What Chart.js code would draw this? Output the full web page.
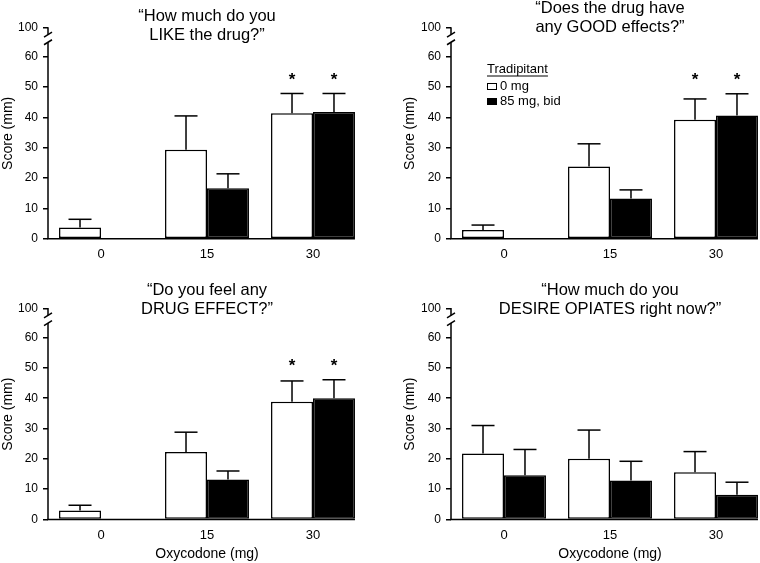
<!DOCTYPE html>
<html>
<head>
<meta charset="utf-8">
<script src="https://cdn.jsdelivr.net/npm/chart.js@4.4.1/dist/chart.umd.min.js"></script>
<style>
  html, body { margin: 0; padding: 0; background: #fff; overflow: hidden; width: 760px; height: 563px; }
  .panel { position: absolute; }
</style>
</head>
<body>
  <div class="panel" style="left:0;top:0"><canvas id="chartLike" width="380" height="280"></canvas></div>
  <div class="panel" style="left:380px;top:0"><canvas id="chartGood" width="400" height="280"></canvas></div>
  <div class="panel" style="left:0;top:280px"><canvas id="chartEffect" width="380" height="283"></canvas></div>
  <div class="panel" style="left:380px;top:280px"><canvas id="chartDesire" width="400" height="283"></canvas></div>

  <script>
    // 데이터
    var doses = ['0', '15', '30'];
    var seriesLabels = ['0 mg', '85 mg, bid'];
    var legendTitle = 'Tradipitant';
    var yTicks = [0, 10, 20, 30, 40, 50, 60, 100];

    var likeMean0 = [3.7, 29.3, 41.4];
    var likeErr0 = [2.7, 11.2, 6.5];
    var likeMean85 = [0, 16.6, 41.8];
    var likeErr85 = [0, 4.8, 6.1];
    var likeSig = [false, false, true];

    var goodMean0 = [2.9, 23.8, 39.2];
    var goodErr0 = [1.6, 7.5, 6.9];
    var goodMean85 = [0, 13.3, 40.6];
    var goodErr85 = [0, 2.8, 7.2];
    var goodSig = [false, false, true];

    var effectMean0 = [3.0, 22.3, 38.8];
    var effectErr0 = [1.7, 6.5, 6.9];
    var effectMean85 = [0, 13.2, 40.0];
    var effectErr85 = [0, 2.8, 6.1];
    var effectSig = [false, false, true];

    var desireMean0 = [21.8, 20.0, 15.6];
    var desireErr0 = [9.2, 9.5, 6.8];
    var desireMean85 = [14.6, 12.9, 8.2];
    var desireErr85 = [8.5, 6.3, 4.1];
    var desireSig = [false, false, false];

    // axis break: 100 sits just above the 0-60 range
    var Y_TOP = 69.5;
    var BRK_LO = 64.8;
    var BRK_HI = 67.3;

    Chart.defaults.font.family = "'Liberation Sans', Arial, Helvetica, sans-serif";
    Chart.defaults.color = '#000';

    function line(c, x1, y1, x2, y2) {
      c.beginPath();
      c.moveTo(x1, y1);
      c.lineTo(x2, y2);
      c.stroke();
    }

    // 에러바, 별표, 축, 제목, 범례
    function panelPlugin(p) {
      return {
        id: 'panel',
        afterDraw: function (chart) {
          var c = chart.ctx, a = chart.chartArea, y = chart.scales.y;
          c.save();
          c.strokeStyle = '#000';
          c.fillStyle = '#000';
          c.lineWidth = 1.5;

          // upper error bars
          var caps = [];
          chart.data.datasets.forEach(function (ds, di) {
            chart.getDatasetMeta(di).data.forEach(function (bar, i) {
              var top = y.getPixelForValue(ds.data[i] + ds.errors[i]);
              if (ds.errors[i] > 0) {
                line(c, bar.x, bar.y, bar.x, top);
                line(c, bar.x - 11.5, top, bar.x + 11.5, top);
              }
              caps[i] = Math.min(caps[i] === undefined ? Infinity : caps[i], top);
            });
          });

          // significance
          c.font = "bold 17px 'Liberation Sans', Arial, sans-serif";
          c.textAlign = 'center';
          c.textBaseline = 'middle';
          chart.data.datasets.forEach(function (ds, di) {
            chart.getDatasetMeta(di).data.forEach(function (bar, i) {
              if (ds.sig[i]) c.fillText('*', bar.x, caps[i] - 17 + 4);
            });
          });

          // axes
          var yb = y.getPixelForValue(0);
          var meta = chart.getDatasetMeta(chart.data.datasets.length - 1);
          var last = meta.data[meta.data.length - 1];
          line(c, a.left - 0.75, yb, last.x + last.width / 2, yb);
          line(c, a.left, yb, a.left, y.getPixelForValue(BRK_LO));
          line(c, a.left, y.getPixelForValue(BRK_HI), a.left, a.top - 0.75);
          [BRK_LO, BRK_HI].forEach(function (v) {
            var py = y.getPixelForValue(v);
            line(c, a.left - 4, py + 2.5, a.left + 4, py - 2.5);
          });

          // title
          c.font = "16.5px 'Liberation Sans', Arial, sans-serif";
          c.textBaseline = 'middle';
          p.title.forEach(function (t, k) {
            c.fillText(t, (a.left + a.right) / 2, p.titleY + k * 19);
          });

          // legend
          if (p.legend) {
            var lx = a.left + 36, ly = a.top + 41;
            c.font = "13px 'Liberation Sans', Arial, sans-serif";
            c.textAlign = 'left';
            c.fillText(legendTitle, lx, ly);
            c.lineWidth = 1;
            line(c, lx, ly + 7, lx + c.measureText(legendTitle).width, ly + 7);
            chart.data.datasets.forEach(function (ds, di) {
              var ry = ly + 17.5 + di * 15;
              c.fillStyle = ds.backgroundColor;
              c.fillRect(lx, ry - 3.5, 10, 7);
              c.strokeRect(lx + 0.5, ry - 3, 9, 6);
              c.fillStyle = '#000';
              c.fillText(ds.label, lx + 13, ry);
            });
          }
          c.restore();
        }
      };
    }

    function createChart(id, p) {
      return new Chart(document.getElementById(id).getContext('2d'), {
        type: 'bar',
        data: {
          labels: doses,
          datasets: [
            { label: seriesLabels[0], data: p.mean0, errors: p.err0, sig: p.sig, backgroundColor: '#fff', borderColor: '#000', borderWidth: 1.5, borderSkipped: false },
            { label: seriesLabels[1], data: p.mean85, errors: p.err85, sig: p.sig, backgroundColor: '#000', borderColor: '#000', borderWidth: 1.5, borderSkipped: false }
          ]
        },
        options: {
          responsive: false,
          animation: false,
          layout: { padding: p.pad },
          datasets: { bar: { categoryPercentage: 0.792, barPercentage: 1 } },
          plugins: { legend: { display: false }, tooltip: { enabled: false } },
          scales: {
            x: {
              grid: { display: false, drawTicks: false },
              border: { display: false },
              ticks: { padding: 8, font: { size: 13 }, maxRotation: 0 },
              title: { display: p.xTitle, text: 'Oxycodone (mg)', font: { size: 14 }, padding: 0 },
              afterFit: function (s) { s.height = p.xh; }
            },
            y: {
              min: 0,
              max: Y_TOP,
              afterBuildTicks: function (s) {
                s.ticks = yTicks.map(function (v) { return { value: v > 60 ? Y_TOP : v }; });
              },
              ticks: {
                autoSkip: false,
                padding: 5,
                font: { size: 12 },
                callback: function (v, i) { return String(yTicks[i]); }
              },
              grid: { drawOnChartArea: false, tickLength: 5, color: '#000', lineWidth: 1.5 },
              border: { display: false },
              title: { display: true, text: 'Score (mm)', font: { size: 14 }, padding: 0 },
              afterFit: function (s) { s.width = p.yw; }
            }
          }
        },
        plugins: [panelPlugin(p)]
      });
    }

    createChart('chartLike', {
      mean0: likeMean0, err0: likeErr0, mean85: likeMean85, err85: likeErr85, sig: likeSig,
      title: ['\u201cHow much do you', 'LIKE the drug?\u201d'], titleY: 16.5,
      pad: { left: 0, right: 14, top: 28, bottom: 11.3 }, yw: 48, xh: 30, xTitle: false, legend: false
    });
    createChart('chartGood', {
      mean0: goodMean0, err0: goodErr0, mean85: goodMean85, err85: goodErr85, sig: goodSig,
      title: ['\u201cDoes the drug have', 'any GOOD effects?\u201d'], titleY: 8.5,
      pad: { left: 22, right: 11, top: 28, bottom: 11.3 }, yw: 49, xh: 30, xTitle: false, legend: true
    });
    createChart('chartEffect', {
      mean0: effectMean0, err0: effectErr0, mean85: effectMean85, err85: effectErr85, sig: effectSig,
      title: ['\u201cDo you feel any', 'DRUG EFFECT?\u201d'], titleY: 10,
      pad: { left: 0, right: 14, top: 28.8, bottom: 0 }, yw: 48, xh: 43.5, xTitle: true, legend: false
    });
    createChart('chartDesire', {
      mean0: desireMean0, err0: desireErr0, mean85: desireMean85, err85: desireErr85, sig: desireSig,
      title: ['\u201cHow much do you', 'DESIRE OPIATES right now?\u201d'], titleY: 10,
      pad: { left: 22, right: 11, top: 28.8, bottom: 0 }, yw: 49, xh: 43.5, xTitle: true, legend: false
    });
  </script>
</body>
</html>
